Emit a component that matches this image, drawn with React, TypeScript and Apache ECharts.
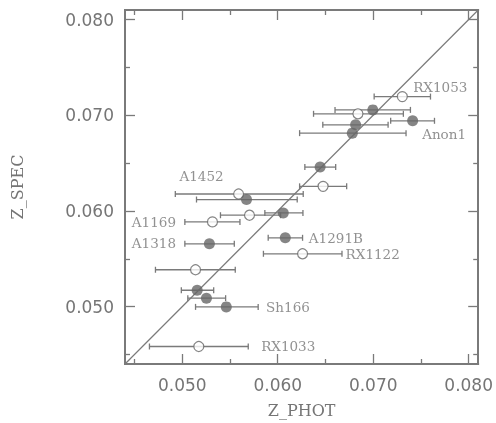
import React, { useEffect, useRef } from "react";
import * as echarts from "echarts";

// Filled points: [z_phot, z_spec, z_phot_low, z_phot_high]
const filledPhot = [0.06996, 0.07413, 0.06816, 0.06781, 0.06444, 0.05673, 0.06058, 0.06079, 0.05284, 0.05156, 0.05253, 0.05461];
const filledSpec = [0.07056, 0.06942, 0.0690, 0.06813, 0.06458, 0.06119, 0.05979, 0.05719, 0.05656, 0.05171, 0.05088, 0.04997];
const filledLow = [0.0660, 0.07183, 0.06472, 0.06229, 0.06284, 0.05149, 0.05865, 0.0590, 0.05027, 0.04990, 0.05058, 0.05139];
const filledHigh = [0.0739, 0.07642, 0.07156, 0.07344, 0.06607, 0.06204, 0.06264, 0.0626, 0.05545, 0.05329, 0.05454, 0.05795];

// Open points
const openPhot = [0.07305, 0.06840, 0.06475, 0.05590, 0.05704, 0.05316, 0.06260, 0.05139, 0.05173];
const openSpec = [0.07195, 0.07015, 0.06257, 0.06177, 0.05955, 0.05885, 0.05552, 0.05385, 0.04583];
const openLow = [0.0701, 0.06375, 0.06229, 0.04927, 0.0540, 0.05027, 0.0585, 0.04719, 0.04656];
const openHigh = [0.0760, 0.07316, 0.06722, 0.06267, 0.0603, 0.05604, 0.06673, 0.05555, 0.05691];

// Cluster name labels (anchor in data coordinates)
const labelNames = ["RX1053", "Anon1", "A1452", "A1169", "A1318", "A1291B", "RX1122", "Sh166", "RX1033"];
const labelX = [0.07419, 0.07513, 0.04971, 0.04472, 0.04472, 0.06326, 0.06711, 0.05878, 0.05826];
const labelY = [0.07299, 0.06809, 0.06365, 0.05882, 0.05663, 0.05716, 0.05549, 0.04997, 0.04591];

const axisMin = 0.044;
const axisMax = 0.081;
const majorTicks = [0.05, 0.06, 0.07, 0.08];
const minorTicks = [0.045, 0.055, 0.065, 0.075];

const GRAY = "#7a7a7a";
const TEXT = "#757575";
const MARK = "#666666";

export default function App() {
  const ref = useRef<HTMLDivElement>(null);
  useEffect(() => {
    if (!ref.current) return;
    const chart = echarts.init(ref.current, null, { renderer: "svg" });

    const errData = (lo: number[], hi: number[], y: number[]) => lo.map((l, i) => [l, hi[i], y[i]]);
    const errRender = (params: any, api: any) => {
      const lo = api.value(0);
      const hi = api.value(1);
      const y = api.value(2);
      const p1 = api.coord([lo, y]);
      const p2 = api.coord([hi, y]);
      const cap = 3;
      const style = { stroke: GRAY, lineWidth: 1.3 };
      return {
        type: "group",
        children: [
          { type: "line", shape: { x1: p1[0], y1: p1[1], x2: p2[0], y2: p2[1] }, style },
          { type: "line", shape: { x1: p1[0], y1: p1[1] - cap, x2: p1[0], y2: p1[1] + cap }, style },
          { type: "line", shape: { x1: p2[0], y1: p2[1] - cap, x2: p2[0], y2: p2[1] + cap }, style },
        ],
      };
    };

    const mkAxis = (pos: string, ticks: number[], len: number, labels: boolean, isX: boolean) => ({
      type: "value",
      position: pos,
      min: axisMin,
      max: axisMax,
      splitLine: { show: false },
      axisLine: { show: true, onZero: false, lineStyle: { color: GRAY, width: 2 } },
      axisTick: {
        show: true,
        inside: true,
        length: len,
        customValues: ticks,
        lineStyle: { color: GRAY, width: 1.3 },
      },
      axisLabel: labels
        ? {
            show: true,
            customValues: ticks,
            formatter: (v: number) => v.toFixed(3),
            fontFamily: "DejaVu Sans",
            fontSize: 17,
            color: TEXT,
            margin: isX ? 12 : 11,
          }
        : { show: false },
    });

    chart.setOption({
      animation: false,
      grid: { left: 125, top: 10, width: 354, height: 354, containLabel: false },
      xAxis: [
        { ...mkAxis("bottom", majorTicks, 10, true, true), name: "Z_PHOT", nameLocation: "middle", nameGap: 38, nameTextStyle: { fontFamily: "DejaVu Serif", fontSize: 16, color: TEXT } },
        mkAxis("bottom", minorTicks, 5, false, true),
        mkAxis("top", majorTicks, 10, false, true),
        mkAxis("top", minorTicks, 5, false, true),
      ],
      yAxis: [
        { ...mkAxis("left", majorTicks, 10, true, false), name: "Z_SPEC", nameLocation: "middle", nameGap: 100, nameTextStyle: { fontFamily: "DejaVu Serif", fontSize: 16, color: TEXT } },
        mkAxis("left", minorTicks, 5, false, false),
        mkAxis("right", majorTicks, 10, false, false),
        mkAxis("right", minorTicks, 5, false, false),
      ],
      series: [
        {
          type: "line",
          data: [[axisMin, axisMin], [axisMax, axisMax]],
          symbol: "none",
          lineStyle: { color: GRAY, width: 1.2 },
          silent: true,
          z: 1,
        },
        {
          type: "custom",
          renderItem: errRender,
          data: errData(filledLow, filledHigh, filledSpec),
          encode: { x: [0, 1], y: 2 },
          z: 2,
        },
        {
          type: "custom",
          renderItem: errRender,
          data: errData(openLow, openHigh, openSpec),
          encode: { x: [0, 1], y: 2 },
          z: 2,
        },
        {
          type: "scatter",
          data: openPhot.map((x, i) => [x, openSpec[i]]),
          symbol: "circle",
          symbolSize: 10,
          itemStyle: { color: "#ffffff", borderColor: MARK, borderWidth: 1.2 },
          z: 3,
        },
        {
          type: "scatter",
          data: filledPhot.map((x, i) => [x, filledSpec[i]]),
          symbol: "circle",
          symbolSize: 11,
          itemStyle: { color: MARK },
          z: 4,
        },
        {
          type: "scatter",
          data: labelNames.map((n, i) => ({ value: [labelX[i], labelY[i]], name: n })),
          symbolSize: 0,
          silent: true,
          label: {
            show: true,
            position: "right",
            distance: 0,
            formatter: (p: any) => p.name,
            fontFamily: "DejaVu Serif",
            fontSize: 13.5,
            color: TEXT,
          },
          z: 5,
        },
      ],
    });
    return () => chart.dispose();
  }, []);
  return <div ref={ref} style={{ position: "fixed", left: 0, top: 0, width: 496, height: 423 }} />;
}
